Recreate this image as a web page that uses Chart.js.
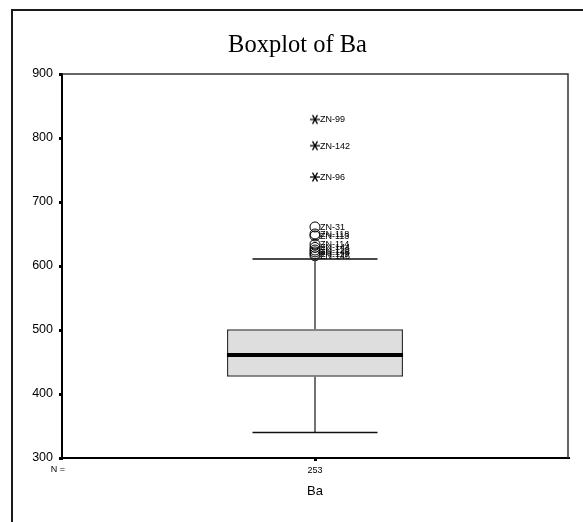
<!DOCTYPE html>
<html>
<head>
<meta charset="utf-8">
<script src="https://cdn.jsdelivr.net/npm/chart.js@4/dist/chart.umd.min.js"></script>
<style>
  html, body { margin: 0; padding: 0; background: #fff; }
  #wrap { width: 583px; height: 522px; }
</style>
</head>
<body>
<div id="wrap"><canvas id="c" width="583" height="522"></canvas></div>
<script>
// Boxplot summary for Ba
const categories = ['Ba'];
const caseCounts = [253];
const boxQ1 = [427];
const boxMedian = [461];
const boxQ3 = [501];
const whiskerLow = [340];
const whiskerHigh = [611];

// Outliers (circles) and extreme values (asterisks), with case labels
const outlierValues = [661, 650, 647, 634, 629, 625, 622, 619, 616];
const outlierLabels = ['ZN-31', 'ZN-118', 'ZN-113', 'ZN-114', 'ZN-144', 'ZN-116', 'ZN-148', 'ZN-119', 'ZN-146'];
const extremeValues = [829, 788, 739];
const extremeLabels = ['ZN-99', 'ZN-142', 'ZN-96'];

const yMin = 300, yMax = 900, yStep = 100;

// Six-armed asterisk marker
function makeAsterisk() {
  const s = 12;
  const cv = document.createElement('canvas');
  cv.width = s; cv.height = s;
  const g = cv.getContext('2d');
  g.strokeStyle = '#000';
  g.lineWidth = 1.3;
  const c = s / 2, r = 5;
  [0, 60, 120].forEach(deg => {
    const a = deg * Math.PI / 180;
    g.beginPath();
    g.moveTo(c - r * Math.cos(a), c - r * Math.sin(a));
    g.lineTo(c + r * Math.cos(a), c + r * Math.sin(a));
    g.stroke();
  });
  return cv;
}

const boxExtras = {
  id: 'boxExtras',
  beforeDraw(chart) {
    const ctx = chart.ctx;
    ctx.save();
    ctx.fillStyle = '#fff';
    ctx.fillRect(0, 0, chart.width, chart.height);
    // outer frame (left and top edges)
    ctx.strokeStyle = '#1a1a1a';
    ctx.lineWidth = 2;
    ctx.beginPath();
    ctx.moveTo(12, chart.height);
    ctx.lineTo(12, 10);
    ctx.lineTo(chart.width, 10);
    ctx.stroke();
    ctx.restore();
  },
  afterDatasetsDraw(chart) {
    const ctx = chart.ctx;
    const xs = chart.scales.x, ys = chart.scales.y;
    const boxMeta = chart.getDatasetMeta(0);
    ctx.save();
    categories.forEach((c, i) => {
      const x = xs.getPixelForValue(i);
      const half = boxMeta.data[i].width / 2;
      const cap = half * 0.71;
      ctx.strokeStyle = '#444';
      ctx.lineWidth = 1.5;
      ctx.beginPath();
      ctx.moveTo(x, ys.getPixelForValue(boxQ3[i]));
      ctx.lineTo(x, ys.getPixelForValue(whiskerHigh[i]));
      ctx.moveTo(x, ys.getPixelForValue(boxQ1[i]));
      ctx.lineTo(x, ys.getPixelForValue(whiskerLow[i]));
      ctx.stroke();
      ctx.strokeStyle = '#111';
      ctx.beginPath();
      const yh = ys.getPixelForValue(whiskerHigh[i]);
      const yl = ys.getPixelForValue(whiskerLow[i]);
      ctx.moveTo(x - cap, yh); ctx.lineTo(x + cap, yh);
      ctx.moveTo(x - cap, yl); ctx.lineTo(x + cap, yl);
      ctx.stroke();
      // median
      ctx.strokeStyle = '#000';
      ctx.lineWidth = 4;
      const ym = ys.getPixelForValue(boxMedian[i]);
      ctx.beginPath();
      ctx.moveTo(x - half, ym); ctx.lineTo(x + half, ym);
      ctx.stroke();
    });
    // case labels beside outliers and extremes
    ctx.fillStyle = '#000';
    ctx.font = '9px "Liberation Sans", Arial, sans-serif';
    ctx.textBaseline = 'middle';
    ctx.textAlign = 'left';
    [[1, outlierLabels], [2, extremeLabels]].forEach(([di, labels]) => {
      chart.getDatasetMeta(di).data.forEach((pt, j) => {
        ctx.fillText(labels[j], pt.x + 5, pt.y + 0.5);
      });
    });
    ctx.restore();
  },
  afterDraw(chart) {
    const ctx = chart.ctx;
    const a = chart.chartArea;
    ctx.save();
    ctx.strokeStyle = '#333';
    ctx.lineWidth = 1.5;
    ctx.beginPath();
    ctx.moveTo(a.left, a.top);
    ctx.lineTo(a.right, a.top);
    ctx.lineTo(a.right, a.bottom);
    ctx.stroke();
    // "N =" row caption
    ctx.fillStyle = '#000';
    ctx.font = '9px "Liberation Sans", Arial, sans-serif';
    ctx.textAlign = 'center';
    ctx.textBaseline = 'top';
    ctx.fillText('N =', a.left - 4, a.bottom + 7);
    ctx.restore();
  }
};

new Chart(document.getElementById('c'), {
  type: 'bar',
  data: {
    labels: categories,
    datasets: [
      {
        data: categories.map((c, i) => [boxQ1[i], boxQ3[i]]),
        backgroundColor: '#dedede',
        borderColor: '#333',
        borderWidth: 1.5,
        borderSkipped: false,
        barPercentage: 0.348,
        categoryPercentage: 1,
        order: 3
      },
      {
        type: 'line',
        data: outlierValues.map(v => ({ x: categories[0], y: v })),
        showLine: false,
        pointStyle: 'circle',
        pointRadius: 5,
        pointBorderWidth: 1,
        borderColor: '#000',
        backgroundColor: 'rgba(0,0,0,0)',
        order: 1
      },
      {
        type: 'line',
        data: extremeValues.map(v => ({ x: categories[0], y: v })),
        showLine: false,
        pointStyle: makeAsterisk(),
        pointRadius: 6,
        order: 1
      }
    ]
  },
  options: {
    responsive: false,
    animation: false,
    events: [],
    layout: { padding: { left: 12, right: 0, top: 0, bottom: 0 } },
    plugins: {
      legend: { display: false },
      tooltip: { enabled: false },
      title: {
        display: true,
        text: 'Boxplot of Ba',
        color: '#000',
        font: { family: '"Liberation Serif", "Times New Roman", serif', size: 24.5, weight: 'normal', lineHeight: 1.2 },
        padding: { top: 30.5, bottom: 14.1 }
      }
    },
    scales: {
      x: {
        type: 'category',
        offset: true,
        grid: { offset: false, drawOnChartArea: false, drawTicks: true, tickLength: 3, color: '#000', lineWidth: 3 },
        border: { color: '#000', width: 2 },
        ticks: {
          color: '#000',
          padding: 4,
          font: { family: '"Liberation Sans", Arial, sans-serif', size: 9 },
          callback: (v, i) => String(caseCounts[i])
        },
        title: {
          display: true,
          text: categories[0],
          color: '#000',
          font: { family: '"Liberation Sans", Arial, sans-serif', size: 13 },
          padding: { top: 0, bottom: 23 }
        },
        afterFit: s => { s.height = 64; }
      },
      y: {
        min: yMin,
        max: yMax,
        grid: { drawOnChartArea: false, drawTicks: true, tickLength: 3, color: '#000', lineWidth: 3 },
        border: { color: '#000', width: 2 },
        ticks: {
          stepSize: yStep,
          color: '#000',
          padding: 6,
          font: { family: '"Liberation Sans", Arial, sans-serif', size: 12.5 }
        },
        afterFit: s => { s.width = 50; }
      },
      // blank right-hand margin strip
      yRight: {
        position: 'right',
        min: yMin,
        max: yMax,
        grid: { display: false },
        border: { display: false },
        ticks: { display: false },
        afterFit: s => { s.width = 15; }
      }
    }
  },
  plugins: [boxExtras]
});
</script>
</body>
</html>
